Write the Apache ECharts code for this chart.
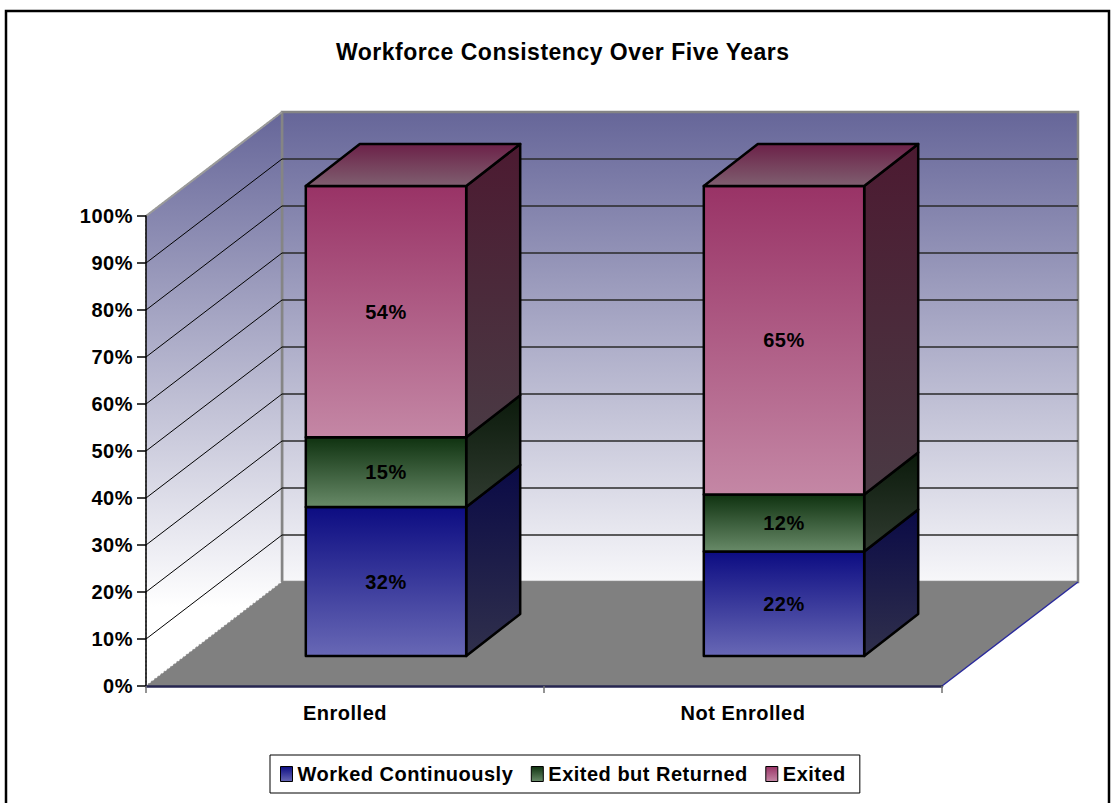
<!DOCTYPE html>
<html>
<head>
<meta charset="utf-8">
<script src="https://cdn.jsdelivr.net/npm/echarts@6/dist/echarts.min.js"></script>
<style>
html,body{margin:0;padding:0;background:#fff;overflow:hidden}
#c{width:1113px;height:803px}
#c text{letter-spacing:0.5px}
</style>
</head>
<body>
<div id="c"></div>
<script>
// ---- data ----
const titleText = 'Workforce Consistency Over Five Years';
const categories = ['Enrolled', 'Not Enrolled'];
const seriesNames = ['Worked Continuously', 'Exited but Returned', 'Exited'];
const workedContinuously = [32, 22];
const exitedButReturned = [15, 12];
const exited = [54, 65];
const yTicks = [0, 10, 20, 30, 40, 50, 60, 70, 80, 90, 100];

// ---- styling / geometry constants ----
const FONT = '"Liberation Sans", Arial, sans-serif';
const DEPTH = [136, -104];     // front plane -> back wall offset (px)
const FRONT_OFF = [41, -30];   // front plane -> bar front face
const BAR_DEPTH = [54, -42];   // bar thickness in depth
const BAR_FRAC = 0.403;        // bar width as fraction of category band

const COLORS = [
  { front: ['#0c0c82', '#6868b5'], side: ['#0a0a46', '#30304c'], top: ['#1a1a60', '#50508a'] },
  { front: ['#0f3210', '#688a68'], side: ['#0b1a0b', '#303b30'], top: ['#14301a', '#50664f'] },
  { front: ['#993366', '#c487a5'], side: ['#4c1a31', '#4a3a44'], top: ['#6c2148', '#7f5f70'] }
];

const vg = (a, b) => new echarts.graphic.LinearGradient(0, 0, 0, 1, [
  { offset: 0, color: a }, { offset: 1, color: b }
]);

// 100% stacked values
const seriesValues = [workedContinuously, exitedButReturned, exited];
const totals = categories.map((c, i) => seriesValues.reduce((s, arr) => s + arr[i], 0));
const stackedData = seriesValues.map((vals, s) => vals.map((v, i) => {
  let below = 0;
  for (let k = 0; k < s; k++) below += seriesValues[k][i];
  return [i, below / totals[i] * 100, (below + v) / totals[i] * 100, v, s === seriesValues.length - 1 ? 1 : 0];
}));

function renderWalls(params, api) {
  const cs = params.coordSys;
  const L = cs.x, R = cs.x + cs.width;
  const y0 = api.coord([0, 0])[1], y100 = api.coord([0, 100])[1];
  const dx = DEPTH[0], dy = DEPTH[1];
  const wallGrad = () => new echarts.graphic.LinearGradient(0, y100 + dy, 0, y0 + dy + 25, [
    { offset: 0, color: '#666699' }, { offset: 1, color: '#ffffff' }
  ], true);
  return {
    type: 'group',
    children: [
      { type: 'rect', shape: { x: L + dx, y: y100 + dy, width: R - L, height: y0 - y100 },
        style: { fill: wallGrad(), stroke: '#858585', lineWidth: 2.5 } },
      { type: 'polygon', shape: { points: [[L, y100], [L + dx, y100 + dy], [L + dx, y0 + dy], [L, y0]] },
        style: { fill: wallGrad(), stroke: '#9a9a9a', lineWidth: 1.5, lineDash: [2, 2] } },
      { type: 'polygon', shape: { points: [[L, y0], [L + dx, y0 + dy], [R + dx, y0 + dy], [R, y0]] },
        style: { fill: '#808080' } },
      { type: 'line', shape: { x1: L + dx, y1: y100 + dy, x2: L + dx, y2: y0 + dy },
        style: { stroke: '#858585', lineWidth: 2.5 } },
      { type: 'line', shape: { x1: L, y1: y100, x2: L + dx, y2: y100 + dy },
        style: { stroke: '#9a9a9a', lineWidth: 2 } },
      { type: 'line', shape: { x1: R, y1: y0, x2: R + dx, y2: y0 + dy },
        style: { stroke: '#2a2a9c', lineWidth: 1.5 } }
    ]
  };
}

function renderGrid(params, api) {
  const cs = params.coordSys;
  const L = cs.x, R = cs.x + cs.width;
  const y = api.coord([0, api.value(1)])[1];
  const dx = DEPTH[0], dy = DEPTH[1];
  return {
    type: 'group',
    children: [
      { type: 'line', shape: { x1: L, y1: y, x2: L + dx, y2: y + dy }, style: { stroke: '#000', lineWidth: 1 } },
      { type: 'line', shape: { x1: L + dx, y1: y + dy, x2: R + dx, y2: y + dy }, style: { stroke: '#2a2a2a', lineWidth: 1.3 } }
    ]
  };
}

function makeBarRender(sIdx) {
  return function (params, api) {
    const cat = api.value(0), v0 = api.value(1), v1 = api.value(2), raw = api.value(3), isTop = api.value(4);
    const bw = api.size([1, 0])[0] * BAR_FRAC;
    const c0 = api.coord([cat, v0]), c1 = api.coord([cat, v1]);
    const Lx = c0[0] - bw / 2 + FRONT_OFF[0], Rx = Lx + bw;
    const yb = c0[1] + FRONT_OFF[1], yt = c1[1] + FRONT_OFF[1];
    const dx = BAR_DEPTH[0], dy = BAR_DEPTH[1];
    const col = COLORS[sIdx];
    const edge = { stroke: '#000', lineWidth: 2.5, lineJoin: 'round' };
    const children = [
      { type: 'polygon', shape: { points: [[Rx, yb], [Rx + dx, yb + dy], [Rx + dx, yt + dy], [Rx, yt]] },
        style: Object.assign({ fill: vg(col.side[0], col.side[1]) }, edge) },
      { type: 'rect', shape: { x: Lx, y: yt, width: bw, height: yb - yt },
        style: Object.assign({ fill: vg(col.front[0], col.front[1]) }, edge) }
    ];
    if (isTop) {
      children.push({ type: 'polygon', shape: { points: [[Lx, yt], [Lx + dx, yt + dy], [Rx + dx, yt + dy], [Rx, yt]] },
        style: Object.assign({ fill: vg(col.top[0], col.top[1]) }, edge) });
    }
    children.push({ type: 'text', style: {
      text: raw + '%', x: (Lx + Rx) / 2, y: (yb + yt) / 2,
      align: 'center', verticalAlign: 'middle',
      font: 'bold 20px ' + FONT, fill: '#000'
    } });
    return { type: 'group', children };
  };
}

const chart = echarts.init(document.getElementById('c'), null, { renderer: 'svg', width: 1113, height: 803 });

const series = [
  { type: 'custom', name: '_walls', silent: true, clip: false, z: 1, renderItem: renderWalls, data: [[0, 0]] },
  { type: 'custom', name: '_grid', silent: true, clip: false, z: 2, renderItem: renderGrid,
    data: yTicks.filter(t => t > 0 && t < 100).map(t => [0, t]) }
];
seriesNames.forEach((n, s) => {
  series.push({ type: 'custom', name: n, silent: true, clip: false, z: 3,
    renderItem: makeBarRender(s), encode: { x: 0, y: [1, 2] }, data: stackedData[s] });
});

chart.setOption({
  animation: false,
  backgroundColor: '#ffffff',
  title: {
    text: titleText, left: 336, top: 40, padding: 0,
    textStyle: { fontSize: 23, fontWeight: 'bold', fontFamily: FONT, color: '#000' }
  },
  grid: { left: 146, right: 171, top: 216, bottom: 117, containLabel: false },
  xAxis: {
    type: 'category', data: categories, z: 10,
    axisLine: { show: true, lineStyle: { color: '#262650', width: 2.5 } },
    axisTick: { show: true, length: 7, lineStyle: { color: '#707070', width: 1.5 } },
    axisLabel: { margin: 17, fontSize: 20, fontWeight: 'bold', fontFamily: FONT, color: '#000' },
    splitLine: { show: false }
  },
  yAxis: {
    type: 'value', min: 0, max: 100, interval: 10, z: 10,
    axisLine: { show: true, lineStyle: { color: '#000', width: 1.5 } },
    axisTick: { show: true, length: 9, lineStyle: { color: '#000', width: 1.5 } },
    axisLabel: { margin: 13, fontSize: 20, fontWeight: 'bold', fontFamily: FONT, color: '#000',
      formatter: v => v + '%' },
    splitLine: { show: false }
  },
  legend: {
    left: 270, top: 755, orient: 'horizontal',
    padding: [9, 17, 9, 10],
    itemWidth: 12, itemHeight: 15, itemGap: 27,
    borderColor: '#000', borderWidth: 1, backgroundColor: '#fff',
    selectedMode: false,
    textStyle: { fontSize: 20, fontWeight: 'bold', fontFamily: FONT, color: '#000', lineHeight: 20 },
    data: seriesNames.map((n, i) => ({
      name: n, icon: 'rect',
      itemStyle: { color: vg(COLORS[i].front[0], COLORS[i].front[1]), borderColor: '#000', borderWidth: 1 }
    }))
  },
  graphic: [
    { type: 'rect', silent: true, z: 100, shape: { x: 6, y: 11, width: 1103, height: 820 },
      style: { fill: 'none', stroke: '#000', lineWidth: 2.5 } }
  ],
  series
});
</script>
</body>
</html>
